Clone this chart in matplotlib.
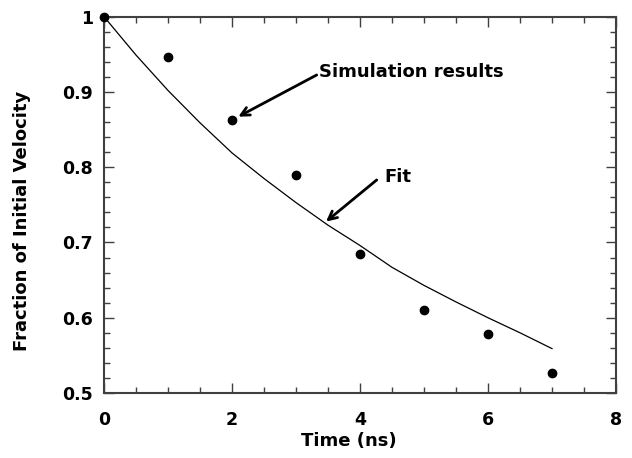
import numpy as np
import matplotlib
matplotlib.use('Agg')
import matplotlib.pyplot as plt
from matplotlib.ticker import MultipleLocator

# Simulation results
sim_time = [0, 1, 2, 3, 4, 5, 6, 7]
sim_fraction = [1.0, 0.947, 0.863, 0.790, 0.685, 0.610, 0.579, 0.526]

# Fit curve, every 0.5 ns
fit_time = [0, 0.5, 1, 1.5, 2, 2.5, 3, 3.5, 4, 4.5, 5, 5.5, 6, 6.5, 7]
fit_fraction = [1.0, 0.949, 0.902, 0.859, 0.819, 0.785, 0.753, 0.723,
                0.696, 0.667, 0.643, 0.621, 0.600, 0.580, 0.559]

x_ticks = [0, 2, 4, 6, 8]
y_ticks = [0.5, 0.6, 0.7, 0.8, 0.9, 1.0]
y_ticklabels = ['0.5', '0.6', '0.7', '0.8', '0.9', '1']

plt.rcParams['font.family'] = ['DejaVu Sans']
plt.rcParams['font.weight'] = 'bold'

fig = plt.figure(figsize=(6.32, 4.58), dpi=100)
ax = fig.add_axes([0.1646, 0.1419, 0.8101, 0.8216])

ax.plot(fit_time, fit_fraction, color='black', linewidth=0.9)
ax.plot(sim_time, sim_fraction, 'o', color='black', markersize=6, clip_on=False, zorder=5)

ax.set_xlim(0, 8)
ax.set_ylim(0.5, 1.0)
ax.set_xticks(x_ticks)
ax.set_xticklabels([str(t) for t in x_ticks])
ax.set_yticks(y_ticks)
ax.set_yticklabels(y_ticklabels)
ax.xaxis.set_minor_locator(MultipleLocator(0.5))
ax.yaxis.set_minor_locator(MultipleLocator(0.02))

spine_color = '#404040'
for s in ax.spines.values():
    s.set_color(spine_color)
    s.set_linewidth(1.5)

ax.tick_params(which='both', direction='in', top=True, right=True, color=spine_color, width=1.0)
ax.tick_params(which='major', length=7)
ax.tick_params(which='minor', length=4)
ax.tick_params(axis='x', which='major', pad=13, labelsize=12.5)
ax.tick_params(axis='y', which='major', pad=8, labelsize=12.5)
for lbl in ax.get_xticklabels() + ax.get_yticklabels():
    lbl.set_fontweight('bold')

ax.set_xlabel('Time (ns)', fontsize=13, fontweight='bold')
ax.xaxis.set_label_coords(0.478, -0.104)
ax.set_ylabel('Fraction of Initial Velocity', fontsize=13, fontweight='bold')
ax.yaxis.set_label_coords(-0.142, 0.457)

arrow = dict(arrowstyle='->, head_length=0.6, head_width=0.3', color='black', lw=2,
             shrinkA=0, shrinkB=0)

# Simulation results annotation
ax.annotate('', xy=(2.098, 0.8672), xytext=(3.323, 0.9226), arrowprops=arrow)
ax.text(3.364, 0.926, 'Simulation results', fontsize=13, fontweight='bold',
        ha='left', va='center')

# Fit annotation
ax.annotate('', xy=(3.469, 0.7278), xytext=(4.261, 0.7831), arrowprops=arrow)
ax.text(4.375, 0.787, 'Fit', fontsize=13, fontweight='bold', ha='left', va='center')

fig.savefig('out.png', dpi=100, facecolor='white')
